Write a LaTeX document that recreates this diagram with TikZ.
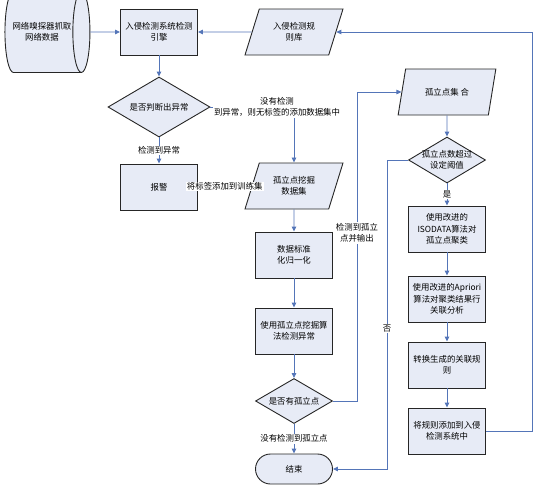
\documentclass[tikz,border=0pt]{standalone}
\usepackage{fontspec}
\setmainfont{Noto Sans CJK SC}
\usetikzlibrary{shapes.geometric,arrows.meta}
\definecolor{boxfill}{RGB}{231,235,246}
\definecolor{linkblue}{RGB}{84,117,184}

\begin{document}
\begin{tikzpicture}[
    x=1pt, y=-1pt,
    every node/.style={font=\fontsize{8.4}{11.5}\selectfont, align=center},
    blk/.style={draw=black!85, line width=0.9pt, fill=boxfill, inner sep=1pt},
    box/.style={blk, rectangle, minimum width=77pt, minimum height=46pt},
    para/.style={blk, trapezium, trapezium left angle=67, trapezium right angle=113,
        trapezium stretches=true, minimum width=98pt, minimum height=46pt},
    decide/.style={blk, diamond, aspect=1.7, inner sep=0pt, minimum width=77pt, minimum height=45pt},
    term/.style={blk, rectangle, rounded corners=15pt, minimum width=77pt, minimum height=30pt},
    cyl/.style={blk, cylinder, aspect=0.8, minimum width=81pt, minimum height=46pt},
    flow/.style={draw=linkblue, line width=0.9pt, -{Triangle[length=5pt,width=4.5pt]}},
    lbl/.style={fill=white, inner sep=1pt}
]
\useasboundingbox (0,0) rectangle (555,488);

% Colonna sinistra
\node[cyl] (sniff) at (42,32) {网络嗅探器抓取\\网络数据};
\node[box] (engine) at (159,32) {入侵检测系统检测\\引擎};
\node[para] (rules) at (294,32) {入侵检测规\\则库};
\node[decide, minimum width=102pt, minimum height=60pt] (abnorm) at (159,107) {是否判断出异常};
\node[box] (alarm) at (159,187) {报警};

% Colonna centrale
\node[para] (mining) at (294,186) {孤立点挖掘\\数据集};
\node[box] (norm) at (294,255) {数据标准\\化归一化};
\node[box] (detect) at (294,331) {使用孤立点挖掘算\\法检测异常};
\node[decide] (hasout) at (294,401) {是否有孤立点};
\node[term] (finish) at (294,469) {结束};

% Colonna destra
\node[para] (outset) at (447,92) {孤立点集 合};
\node[decide, minimum height=46pt, label={[align=center]center:孤立点数超过\\设定阈值}] (thresh) at (447,160) {};
\node[box] (iso) at (447,229) {使用改进的\\ISODATA算法对\\孤立点聚类};
\node[box] (apri) at (447,299) {使用改进的Apriori\\算法对聚类结果行\\关联分析};
\node[box] (conv) at (447,365) {转换生成的关联规\\则};
\node[box] (addrule) at (447,431) {将规则添加到入侵\\检测系统中};

% Archi
\draw[flow] (sniff) -- (engine);
\draw[flow] (rules) -- (engine);
\draw[flow] (engine) -- (abnorm);
\draw[flow] (abnorm) -- node[lbl]{检测到异常} (alarm);
\draw[flow] (alarm) -- node[lbl]{将标签添加到训练集} (mining);
\draw[flow] (abnorm) -| node[lbl, pos=0.5, xshift=-17pt]{没有检测\\到异常，则无标签的添加数据集中} (mining);
\draw[flow] (mining) -- (norm);
\draw[flow] (norm) -- (detect);
\draw[flow] (detect) -- (hasout);
\draw[flow] (hasout) -- node[lbl]{没有检测到孤立点} (finish);
\draw[flow] (hasout.east) -- ++(24,0) |- node[lbl, pos=0.272]{检测到孤立\\点并输出} (outset);
\draw[flow] (outset) -- (thresh);
\draw[flow] (thresh) -- node[lbl]{是} (iso);
\draw[flow] (thresh.west) -- ++(-21,0) |- node[lbl, pos=0.273]{否} (finish);
\draw[flow] (iso) -- (apri);
\draw[flow] (apri) -- (conv);
\draw[flow] (conv) -- (addrule);
\draw[flow] (addrule.east) -- ++(46,0) |- (rules);
\end{tikzpicture}
\end{document}
